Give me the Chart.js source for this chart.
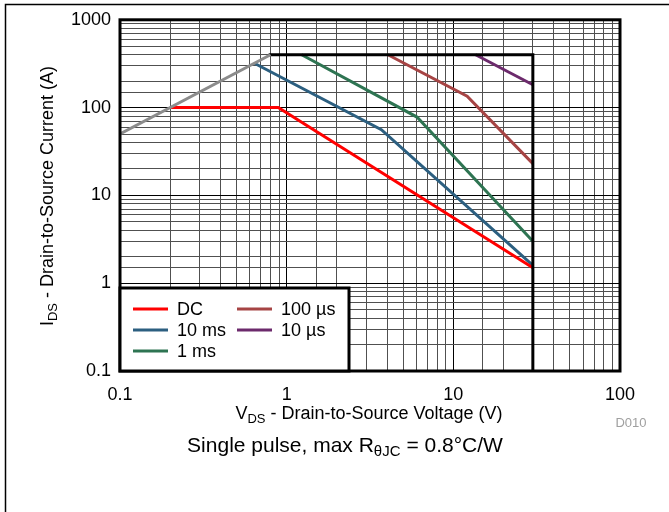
<!DOCTYPE html>
<html>
<head>
<meta charset="utf-8">
<script src="https://cdn.jsdelivr.net/npm/chart.js@4.4.1/dist/chart.umd.min.js"></script>
<style>
  body { margin: 0; background: #fff; }
  #wrap { width: 669px; height: 512px; }
</style>
</head>
<body>
<div id="wrap"><canvas id="soa" width="669" height="512"></canvas></div>
<script>
// safe operating area
const xTicks = [0.1, 1, 10, 100];
const yTicks = [0.1, 1, 10, 100, 1000];

const limitV = [0.1, 0.8];          // Rds(on) limit (grey)
const limitI = [50, 400];
const boxV = [0.78, 30, 30];         // package / BVdss boundary
const boxI = [400, 400, 0.1];

const dcV = [0.2, 0.89, 30];
const dcI = [100, 100, 1.5];
const ms10V = [0.64, 3.7, 30];
const ms10I = [320, 56, 1.6];
const ms1V = [1.23, 6.05, 30];
const ms1I = [400, 78, 3];
const us100V = [4.05, 12.1, 30];
const us100I = [400, 135, 23];
const us10V = [13.6, 30];
const us10I = [400, 182];

const legendNames = ['DC', '10 ms', '1 ms', '100 µs', '10 µs'];
const colors = ['#ff0000', '#2c5f80', '#2e7452', '#a64444', '#6c2a6c'];

const FONT = '"Liberation Sans", Arial, sans-serif';

function pts(xs, ys) {
  return xs.map((x, i) => ({ x: x, y: ys[i] }));
}
function isDecade(v) {
  const l = Math.log10(v);
  return Math.abs(l - Math.round(l)) < 1e-6;
}
function line(data, color) {
  return { data: data, borderColor: color, borderWidth: 3, pointRadius: 0, fill: false, tension: 0 };
}

// text with subscript parts: [[text, isSub], ...]
function richWidth(ctx, parts, size, subSize) {
  let w = 0;
  parts.forEach(p => {
    ctx.font = (p[1] ? subSize : size) + 'px ' + FONT;
    w += ctx.measureText(p[0]).width;
  });
  return w;
}
function drawRich(ctx, parts, cx, cy, size, subSize) {
  let x = cx - richWidth(ctx, parts, size, subSize) / 2;
  ctx.textAlign = 'left';
  ctx.textBaseline = 'middle';
  parts.forEach(p => {
    ctx.font = (p[1] ? subSize : size) + 'px ' + FONT;
    ctx.fillText(p[0], x, p[1] ? cy + size * 0.3 : cy);
    x += ctx.measureText(p[0]).width;
  });
}

const extras = {
  id: 'extras',
  beforeDraw(chart) {
    const ctx = chart.ctx;
    ctx.save();
    ctx.strokeStyle = '#000';
    ctx.lineWidth = 1.5;
    ctx.beginPath();
    ctx.moveTo(669, 4.5);
    ctx.lineTo(5.5, 4.5);
    ctx.lineTo(5.5, 512);
    ctx.stroke();
    ctx.restore();
  },
  afterDatasetsDraw(chart) {
    const ctx = chart.ctx;
    const a = chart.chartArea;
    ctx.save();
    // plot frame
    ctx.strokeStyle = '#000';
    ctx.lineWidth = 3;
    ctx.strokeRect(a.left, a.top, a.right - a.left, a.bottom - a.top);

    // legend box
    const lx = a.left, ly = 288, lw = 229, lh = a.bottom - 288;
    ctx.fillStyle = '#fff';
    ctx.fillRect(lx, ly, lw, lh);
    ctx.lineWidth = 3;
    ctx.strokeRect(lx, ly, lw, lh);
    const slots = [[133, 309], [133, 330], [133, 351], [237, 309], [237, 330]];
    ctx.font = '18px ' + FONT;
    ctx.textBaseline = 'middle';
    ctx.textAlign = 'left';
    legendNames.forEach((n, i) => {
      const s = slots[i];
      ctx.strokeStyle = colors[i];
      ctx.lineWidth = 3;
      ctx.beginPath();
      ctx.moveTo(s[0], s[1]);
      ctx.lineTo(s[0] + 35, s[1]);
      ctx.stroke();
      ctx.fillStyle = '#000';
      ctx.fillText(n, s[0] + 44, s[1] + 1);
    });

    // axis titles with subscripts
    ctx.fillStyle = '#000';
    drawRich(ctx, [['V', false], ['DS', true], [' - Drain-to-Source Voltage (V)', false]], 369, 414, 18, 13);
    ctx.save();
    ctx.translate(48, 196);
    ctx.rotate(-Math.PI / 2);
    drawRich(ctx, [['I', false], ['DS', true], [' - Drain-to-Source Current (A)', false]], 0, 0, 18, 13);
    ctx.restore();

    ctx.fillStyle = '#a0a0a0';
    ctx.font = '13px ' + FONT;
    ctx.textAlign = 'center';
    ctx.fillText('D010', 631, 423);

    ctx.fillStyle = '#000';
    drawRich(ctx, [['Single pulse, max R', false], ['θJC', true], [' = 0.8°C/W', false]], 345, 446, 21, 15);
    ctx.restore();
  }
};

const gridColor = c => (c.tick && isDecade(c.tick.value) ? '#000' : '#505050');

new Chart(document.getElementById('soa'), {
  type: 'line',
  data: {
    datasets: [
      line(pts(limitV, limitI), '#8c8c8c'),
      line(pts(boxV, boxI), '#000'),
      line(pts(dcV, dcI), colors[0]),
      line(pts(ms10V, ms10I), colors[1]),
      line(pts(ms1V, ms1I), colors[2]),
      line(pts(us100V, us100I), colors[3]),
      line(pts(us10V, us10I), colors[4])
    ]
  },
  options: {
    responsive: false,
    animation: false,
    layout: { padding: { left: 0, right: 49, top: 17, bottom: 0 } },
    plugins: { legend: { display: false }, tooltip: { enabled: false } },
    scales: {
      x: {
        type: 'logarithmic',
        min: 0.1,
        max: 100,
        afterFit: s => { s.height = 141; },
        grid: { color: gridColor, lineWidth: 1, drawTicks: false },
        border: { display: false },
        ticks: {
          autoSkip: false,
          maxRotation: 0,
          padding: 13,
          color: '#000',
          font: { family: FONT, size: 18 },
          callback: v => (xTicks.some(t => Math.abs(t - v) < 1e-9) ? String(v) : '')
        }
      },
      y: {
        type: 'logarithmic',
        min: 0.1,
        max: 1000,
        afterFit: s => { s.width = 120; },
        grid: { color: gridColor, lineWidth: 1, drawTicks: false },
        border: { display: false },
        ticks: {
          autoSkip: false,
          padding: 9,
          color: '#000',
          font: { family: FONT, size: 18 },
          callback: v => (yTicks.some(t => Math.abs(t - v) < 1e-9) ? String(v) : '')
        }
      }
    }
  },
  plugins: [extras]
});
</script>
</body>
</html>
